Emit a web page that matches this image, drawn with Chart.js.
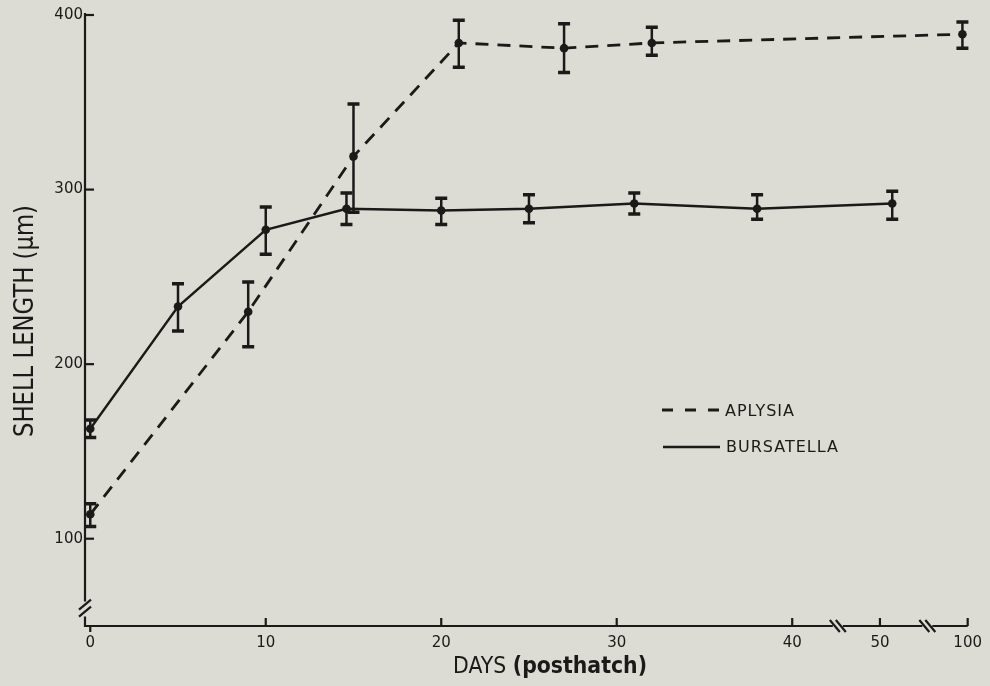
<!DOCTYPE html>
<html>
<head>
<meta charset="utf-8">
<style>
  html, body { margin: 0; padding: 0; background: #dcdbd4; }
  #wrap { width: 990px; height: 686px; }
</style>
<script src="https://cdn.jsdelivr.net/npm/chart.js@4.4.1/dist/chart.umd.min.js"></script>
</head>
<body>
<div id="wrap"><canvas id="growth" width="990" height="686"></canvas></div>
<script>
// Shell length (um) against days posthatch.
const bursatellaDays = [0, 5, 10, 14.6, 20, 25, 31, 38, 50.7];
const bursatellaMean = [163, 233, 277, 289, 288, 289, 292, 289, 292];
const bursatellaLow = [158, 219, 263, 280, 280, 281, 286, 283, 283];
const bursatellaHigh = [168, 246, 290, 298, 295, 297, 298, 297, 299];

const aplysiaDays = [0, 9, 15, 21, 27, 32, 99.7];
const aplysiaMean = [114, 230, 319, 384, 381, 384, 389];
const aplysiaLow = [107, 210, 287, 370, 367, 377, 381];
const aplysiaHigh = [120, 247, 349, 397, 395, 393, 396];

const yTicks = [100, 200, 300, 400];
const xTickDays = [0, 10, 20, 30, 40, 50, 100];

const INK = '#1a1a18';
const BG = '#dcdbd4';
const FONT = '"DejaVu Sans", sans-serif';

// The day axis is broken twice: 0-40 linear, then a short piece round 50, then 100.
function dayToPos( d ) {
	if ( d <= 40 ) return d;
	if ( d <= 75 ) return 45 + ( d - 50 );
	return 50 + ( d - 100 );
}
const xBreaks = [ 42.6, 47.7 ]; // axis positions of the // marks
const yBreak = 60;

function points( days, mean, low, high ) {
	return days.map( ( d, i ) => ( {
		x: dayToPos( d ),
		y: mean[ i ],
		lo: low[ i ],
		hi: high[ i ]
	} ) );
}

/* -------------------------------------------------------------
 * Plugins: background, error bars, hand drawn axes and labels
 * ------------------------------------------------------------- */
const paper = {
	id: 'paper',
	beforeDraw( chart ) {
		const { ctx, width, height } = chart;
		ctx.save();
		ctx.fillStyle = BG;
		ctx.fillRect( 0, 0, width, height );
		ctx.restore();
	}
};

const errorBars = {
	id: 'errorBars',
	beforeDatasetsDraw( chart ) {
		const { ctx, scales: { x, y } } = chart;
		ctx.save();
		ctx.strokeStyle = INK;
		chart.data.datasets.forEach( ( ds ) => {
			ds.data.forEach( ( p ) => {
				const px = x.getPixelForValue( p.x );
				const top = y.getPixelForValue( p.hi );
				const bot = y.getPixelForValue( p.lo );
				ctx.lineWidth = 2.5;
				ctx.beginPath();
				ctx.moveTo( px, top );
				ctx.lineTo( px, bot );
				ctx.stroke();
				ctx.lineWidth = 3.5;
				ctx.beginPath();
				ctx.moveTo( px - 6, top );
				ctx.lineTo( px + 6, top );
				ctx.moveTo( px - 6, bot );
				ctx.lineTo( px + 6, bot );
				ctx.stroke();
			} );
		} );
		ctx.restore();
	}
};

function fitText( ctx, text, target ) {
	return target / ctx.measureText( text ).width;
}

const axesDrawn = {
	id: 'axesDrawn',
	afterDraw( chart ) {
		const { ctx, chartArea: area, scales: { x, y } } = chart;
		const left = area.left;
		const bottom = area.bottom;
		ctx.save();
		ctx.strokeStyle = INK;
		ctx.fillStyle = INK;
		ctx.lineWidth = 2.2;
		ctx.lineCap = 'butt';

		// y axis with a break near the bottom
		const yb = y.getPixelForValue( yBreak );
		ctx.beginPath();
		ctx.moveTo( left, area.top - 2 );
		ctx.lineTo( left, yb - 7 );
		ctx.moveTo( left, yb + 8 );
		ctx.lineTo( left, bottom + 1 );
		ctx.stroke();
		ctx.beginPath();
		[ -4, 3 ].forEach( ( off ) => {
			ctx.moveTo( left - 6, yb + off + 5 );
			ctx.lineTo( left + 6, yb + off - 5 );
		} );
		ctx.stroke();

		yTicks.forEach( ( v ) => {
			const py = y.getPixelForValue( v );
			ctx.beginPath();
			ctx.moveTo( left, py );
			ctx.lineTo( left + 9, py );
			ctx.stroke();
		} );

		// x axis with two breaks
		const b1 = x.getPixelForValue( xBreaks[ 0 ] );
		const b2 = x.getPixelForValue( xBreaks[ 1 ] );
		ctx.beginPath();
		ctx.moveTo( left - 1, bottom );
		ctx.lineTo( b1 - 5, bottom );
		ctx.moveTo( b1 + 5, bottom );
		ctx.lineTo( b2 - 5, bottom );
		ctx.moveTo( b2 + 5, bottom );
		ctx.lineTo( area.right, bottom );
		ctx.stroke();
		ctx.beginPath();
		[ b1, b2 ].forEach( ( bx ) => {
			[ -3, 3 ].forEach( ( off ) => {
				ctx.moveTo( bx + off - 5, bottom - 6 );
				ctx.lineTo( bx + off + 5, bottom + 6 );
			} );
		} );
		ctx.stroke();

		xTickDays.forEach( ( d ) => {
			const px = x.getPixelForValue( dayToPos( d ) );
			ctx.beginPath();
			ctx.moveTo( px, bottom );
			ctx.lineTo( px, d === 0 ? bottom + 6 : bottom - 8 );
			ctx.stroke();
		} );

		// axis titles
		ctx.textBaseline = 'alphabetic';
		ctx.textAlign = 'center';
		ctx.font = '26px ' + FONT;
		const yTitle = 'SHELL LENGTH (\u03bcm)';
		const sy = fitText( ctx, yTitle, 232 );
		ctx.save();
		ctx.translate( 33, 321 );
		ctx.rotate( -Math.PI / 2 );
		ctx.scale( sy, 1 );
		ctx.fillText( yTitle, 0, 0 );
		ctx.restore();

		const partA = 'DAYS ';
		const partB = '(posthatch)';
		ctx.font = '23px ' + FONT;
		const wA = ctx.measureText( partA ).width;
		ctx.font = 'bold 23px ' + FONT;
		const wB = ctx.measureText( partB ).width;
		const sx = 194 / ( wA + wB );
		ctx.save();
		ctx.translate( 550 - 97, 673 );
		ctx.scale( sx, 1 );
		ctx.textAlign = 'left';
		ctx.font = '23px ' + FONT;
		ctx.fillText( partA, 0, 0 );
		ctx.font = 'bold 23px ' + FONT;
		ctx.fillText( partB, wA, 0 );
		ctx.restore();

		// legend
		ctx.textAlign = 'left';
		ctx.font = '16px ' + FONT;
		ctx.letterSpacing = '1px';
		ctx.lineWidth = 2.8;
		ctx.setLineDash( [ 11, 12 ] );
		ctx.beginPath();
		ctx.moveTo( 662, 410 );
		ctx.lineTo( 720, 410 );
		ctx.stroke();
		ctx.setLineDash( [] );
		ctx.fillText( 'APLYSIA', 725, 416 );
		ctx.lineWidth = 2.4;
		ctx.beginPath();
		ctx.moveTo( 663, 447 );
		ctx.lineTo( 720, 447 );
		ctx.stroke();
		ctx.fillText( 'BURSATELLA', 726, 452 );
		ctx.restore();
	}
};

/* -------------------------------------------------------------
 * Chart
 * ------------------------------------------------------------- */
const lineStyle = {
	borderColor: INK,
	backgroundColor: INK,
	pointRadius: 4.3,
	pointHoverRadius: 4.3,
	pointBackgroundColor: INK,
	pointBorderWidth: 0,
	tension: 0,
	fill: false
};

new Chart( document.getElementById( 'growth' ), {
	type: 'line',
	data: {
		datasets: [
			{
				label: 'APLYSIA',
				data: points( aplysiaDays, aplysiaMean, aplysiaLow, aplysiaHigh ),
				borderDash: [ 13, 9 ],
				borderWidth: 2.8,
				...lineStyle
			},
			{
				label: 'BURSATELLA',
				data: points( bursatellaDays, bursatellaMean, bursatellaLow, bursatellaHigh ),
				borderWidth: 2.4,
				...lineStyle
			}
		]
	},
	options: {
		responsive: false,
		devicePixelRatio: 1,
		animation: false,
		layout: { padding: { left: 0, top: 15, right: 20, bottom: 0 } },
		plugins: {
			legend: { display: false },
			tooltip: { enabled: false }
		},
		scales: {
			x: {
				type: 'linear',
				min: -0.3,
				max: 50,
				grid: { display: false, drawTicks: false },
				border: { display: false },
				afterBuildTicks: ( scale ) => {
					scale.ticks = xTickDays.map( ( d ) => ( { value: dayToPos( d ) } ) );
				},
				afterFit: ( scale ) => {
					scale.height = 60;
				},
				ticks: {
					autoSkip: false,
					maxRotation: 0,
					padding: 8,
					color: INK,
					font: { family: FONT, size: 15 },
					callback: ( v, i ) => String( xTickDays[ i ] )
				}
			},
			y: {
				min: 50,
				max: 400,
				grid: { display: false, drawTicks: false },
				border: { display: false },
				afterBuildTicks: ( scale ) => {
					scale.ticks = yTicks.map( ( v ) => ( { value: v } ) );
				},
				afterFit: ( scale ) => {
					scale.width = 85;
				},
				ticks: {
					padding: 2,
					color: INK,
					font: { family: FONT, size: 15 }
				}
			}
		}
	},
	plugins: [ paper, errorBars, axesDrawn ]
} );
</script>
</body>
</html>
